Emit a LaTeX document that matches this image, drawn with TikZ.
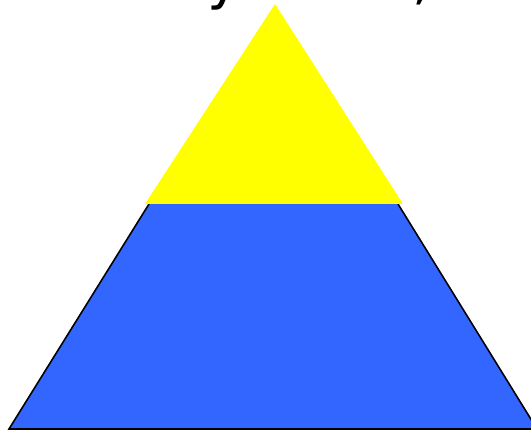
\documentclass[tikz,border=0pt]{standalone}
\usepackage{fontspec}
\setmainfont{DejaVu Sans}
\usepackage{xcolor}
\usepackage{tikz}
\usetikzlibrary{positioning}

\definecolor{layerblue}{HTML}{3366FF}
\definecolor{layeryellow}{HTML}{FFFF00}

\begin{document}
\begin{tikzpicture}[
  x=0.02cm, y=-0.02cm,
  base/.style={fill=layerblue},
  edge/.style={draw=black, line width=0.9pt, line join=miter},
  tip/.style={fill=layeryellow},
  cut/.style={font=\fontsize{32}{36}\selectfont, inner sep=0pt, anchor=base west}
]
\useasboundingbox (0,0) rectangle (531,431);
\clip (0,0) rectangle (531,431);

% lower layer
\coordinate (bl) at (9,429);
\coordinate (br) at (537,429);
\coordinate (tl) at (149,204);
\coordinate (tr) at (398,204);
\fill[base] (bl) -- (tl) -- (tr) -- (br) -- cycle;
\draw[edge] (tl) -- (bl) -- (br) -- (tr);

% upper layer
\coordinate (apex) at (275,4);
\coordinate (yl) at (145,204);
\coordinate (yr) at (403,204);
\fill[tip] (apex) -- (yl) -- (yr) -- cycle;

% title, mostly cut off
\node[cut] (t1) at (207,-1) {y};
\node[cut] (t2) at (412,-1) {,};

\end{tikzpicture}
\end{document}
